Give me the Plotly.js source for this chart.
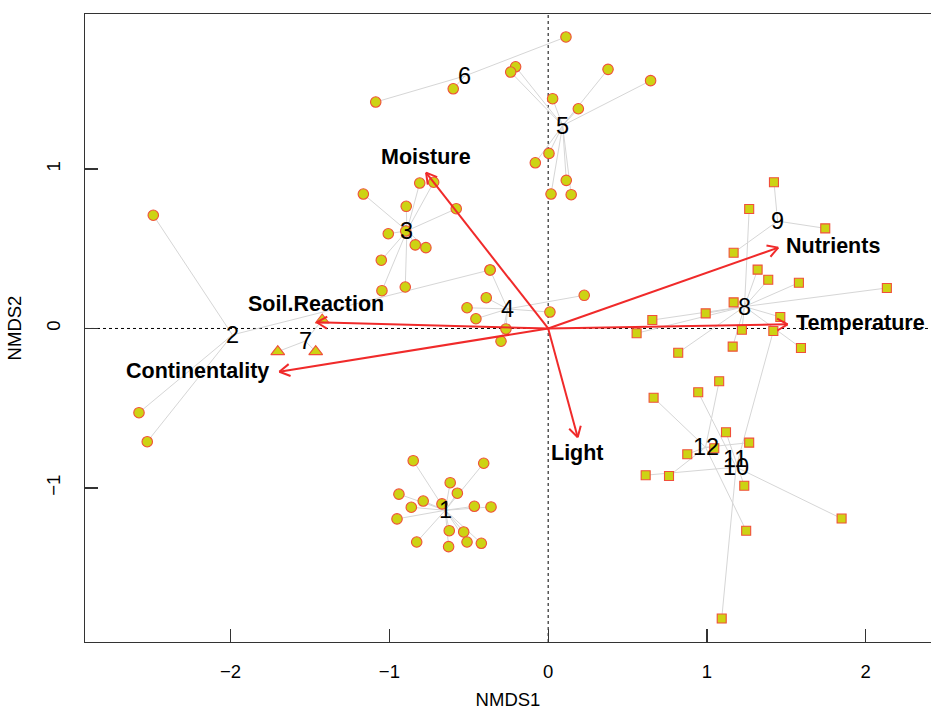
<!DOCTYPE html>
<html>
<head>
<meta charset="utf-8">
<script src="https://cdn.plot.ly/plotly-3.0.1.min.js"></script>
<style>html,body{margin:0;padding:0;background:#fff;}#plot{width:931px;height:713px;}</style>
</head>
<body>
<div id="plot"></div>
<script>
// ---- Site scores (NMDS1, NMDS2) per group ----
const g1x = [-0.850,-0.406,-0.617,-0.572,-0.940,-0.787,-0.862,-0.669,-0.465,-0.360,-0.952,-0.623,-0.532,-0.828,-0.511,-0.627,-0.421];
const g1y = [-0.829,-0.845,-0.967,-1.033,-1.039,-1.082,-1.121,-1.100,-1.115,-1.119,-1.194,-1.268,-1.276,-1.339,-1.339,-1.368,-1.347];
const g2x = [-2.487,-2.577,-2.525,-0.366];
const g2y = [0.710,-0.528,-0.710,0.367];
const g3x = [-0.809,-0.721,-1.164,-0.894,-0.579,-1.007,-0.897,-0.837,-0.770,-1.051,-1.047,-0.900];
const g3y = [0.912,0.917,0.843,0.766,0.751,0.594,0.611,0.524,0.507,0.428,0.237,0.260];
const g4x = [-0.390,-0.511,-0.455,0.011,0.227,-0.266,-0.297,-0.366];
const g4y = [0.193,0.130,0.061,0.103,0.208,-0.003,-0.080,0.367];
const g5x = [-0.205,-0.236,0.377,0.645,0.028,0.190,0.005,-0.081,0.114,0.018,0.145];
const g5y = [1.641,1.608,1.625,1.554,1.441,1.378,1.098,1.039,0.929,0.843,0.839];
const g6x = [-1.086,-0.598,0.112];
const g6y = [1.420,1.503,1.828];
const g7x = [-1.423,-1.703,-1.464];
const g7y = [0.053,-0.145,-0.145];
const g8x = [1.266,1.319,1.386,1.579,2.133,1.168,0.992,0.656,1.462,0.557,1.220,1.592,1.162,0.819];
const g8y = [0.749,0.369,0.306,0.287,0.254,0.164,0.095,0.053,0.072,-0.030,-0.008,-0.122,-0.114,-0.152];
const g9x = [1.422,1.745,1.168];
const g9y = [0.917,0.628,0.475];
const g10x = [0.614,1.848,1.093,1.418,0.945];
const g10y = [-0.920,-1.192,-1.819,-0.016,-0.400];
const g11x = [1.120,1.235];
const g11y = [-0.651,-0.986];
const g12x = [0.664,1.077,0.876,1.046,1.266,1.247,0.761];
const g12y = [-0.434,-0.331,-0.789,-0.751,-0.716,-1.268,-0.925];

const groupNames = ["1","2","3","4","5","6","7","8","9","10","11","12"];
const groupSymbols = ["circle","circle","circle","circle","circle","circle","triangle-up","square","square","square","square","square"];

// ---- Environmental vectors (envfit arrows) ----
const envNames = ["Moisture","Nutrients","Temperature","Soil.Reaction","Continentality","Light"];
const envX = [-0.769, 1.449, 1.508, -1.458, -1.693, 0.186];
const envY = [0.977, 0.507, 0.026, 0.039, -0.271, -0.682];

// ---- axis ticks ----
const xTicks = [-2,-1,0,1,2];
const yTicks = [-1,0,1];

const groupsX = [g1x,g2x,g3x,g4x,g5x,g6x,g7x,g8x,g9x,g10x,g11x,g12x];
const groupsY = [g1y,g2y,g3y,g4y,g5y,g6y,g7y,g8y,g9y,g10y,g11y,g12y];

const XR = [-2.917, 2.411], YR = [-1.966, 1.972];
const W = 931, H = 713, ML = 85, MR = 0, MT = 14, MB = 71;
const pxPerX = (W-ML-MR)/(XR[1]-XR[0]);
const pxPerY = (H-MT-MB)/(YR[1]-YR[0]);

const FONT = "Liberation Sans, Arial, Helvetica, sans-serif";
const fill = "#cdd313", edge = "#f0503a";
const mean = a => a.reduce((s,v)=>s+v,0)/a.length;

const traces = [];
// spider lines
const sx = [], sy = [];
const cx = [], cy = [];
groupsX.forEach((gx,i)=>{
  const gy = groupsY[i];
  const mx = mean(gx), my = mean(gy);
  cx.push(mx); cy.push(my);
  gx.forEach((x,j)=>{ sx.push(mx, x, null); sy.push(my, gy[j], null); });
});
traces.push({x:sx,y:sy,mode:"lines",line:{color:"#d6d6d6",width:1},hoverinfo:"skip",showlegend:false});

// points
groupsX.forEach((gx,i)=>{
  const sym = groupSymbols[i];
  traces.push({x:gx,y:groupsY[i],mode:"markers",showlegend:false,hoverinfo:"skip",
    marker:{symbol:sym,size: sym==="circle"?10.5:(sym==="square"?9:12),color:fill,line:{color:edge,width:1.1}}});
});

// arrows (shaft + open V head computed in pixel space)
const ax = [], ay = [];
const headLen = 12, headAng = Math.PI/6;
envX.forEach((ex,i)=>{
  const ey = envY[i];
  ax.push(0, ex, null); ay.push(0, ey, null);
  const ang = Math.atan2(ey*pxPerY, ex*pxPerX);
  [ang+Math.PI-headAng, ang+Math.PI+headAng].forEach(a=>{
    ax.push(ex, ex + headLen*Math.cos(a)/pxPerX, null);
    ay.push(ey, ey + headLen*Math.sin(a)/pxPerY, null);
  });
});
traces.push({x:ax,y:ay,mode:"lines",line:{color:"#f02a2a",width:2},hoverinfo:"skip",showlegend:false});

const labelPlace = {
  "Moisture":{xanchor:"center",yanchor:"bottom",xshift:0,yshift:2},
  "Nutrients":{xanchor:"left",yanchor:"middle",xshift:6,yshift:2},
  "Temperature":{xanchor:"left",yanchor:"middle",xshift:6,yshift:1},
  "Soil.Reaction":{xanchor:"center",yanchor:"bottom",xshift:-1,yshift:4},
  "Continentality":{xanchor:"right",yanchor:"middle",xshift:-8,yshift:1},
  "Light":{xanchor:"center",yanchor:"top",xshift:0,yshift:-2}
};
const annotations = [];
envNames.forEach((n,i)=>{
  const p = labelPlace[n];
  annotations.push(Object.assign({x:envX[i],y:envY[i],xref:"x",yref:"y",text:"<b>"+n+"</b>",showarrow:false,
    font:{family:FONT,size:21.5,color:"#000"}},p));
});
groupNames.forEach((n,i)=>{
  annotations.push({x:cx[i],y:cy[i],xref:"x",yref:"y",text:n,showarrow:false,xanchor:"center",yanchor:"middle",
    font:{family:FONT,size:23.5,color:"#000"}});
});

const shapes = [
  {type:"line",xref:"x",yref:"paper",x0:0,x1:0,y0:0,y1:1,line:{color:"#000",width:1,dash:"3px,3px"},layer:"below"},
  {type:"line",xref:"paper",yref:"y",x0:0,x1:1,y0:0,y1:0,line:{color:"#000",width:1,dash:"3px,3px"},layer:"below"}
];

const axisCommon = {showgrid:false,zeroline:false,showline:true,mirror:true,linecolor:"#333",linewidth:1.3,
  ticks:"inside",ticklen:13,tickwidth:1.2,tickcolor:"#333",tickfont:{family:FONT,size:18.5,color:"#000"}};

const layout = {
  width:W,height:H,margin:{l:ML,r:MR,t:MT,b:MB},
  paper_bgcolor:"#fff",plot_bgcolor:"#fff",
  xaxis:Object.assign({},axisCommon,{range:XR,tickvals:xTicks,ticklabelstandoff:12,
    title:{text:"NMDS1",font:{family:FONT,size:18.5,color:"#000"},standoff:12}}),
  yaxis:Object.assign({},axisCommon,{range:YR,tickvals:yTicks,tickangle:-90,ticklabelstandoff:16,
    title:{text:"NMDS2",font:{family:FONT,size:18.5,color:"#000"},standoff:16}}),
  shapes:shapes,annotations:annotations,showlegend:false
};
Plotly.newPlot("plot",traces,layout,{displayModeBar:false,staticPlot:true});
</script>
</body>
</html>
